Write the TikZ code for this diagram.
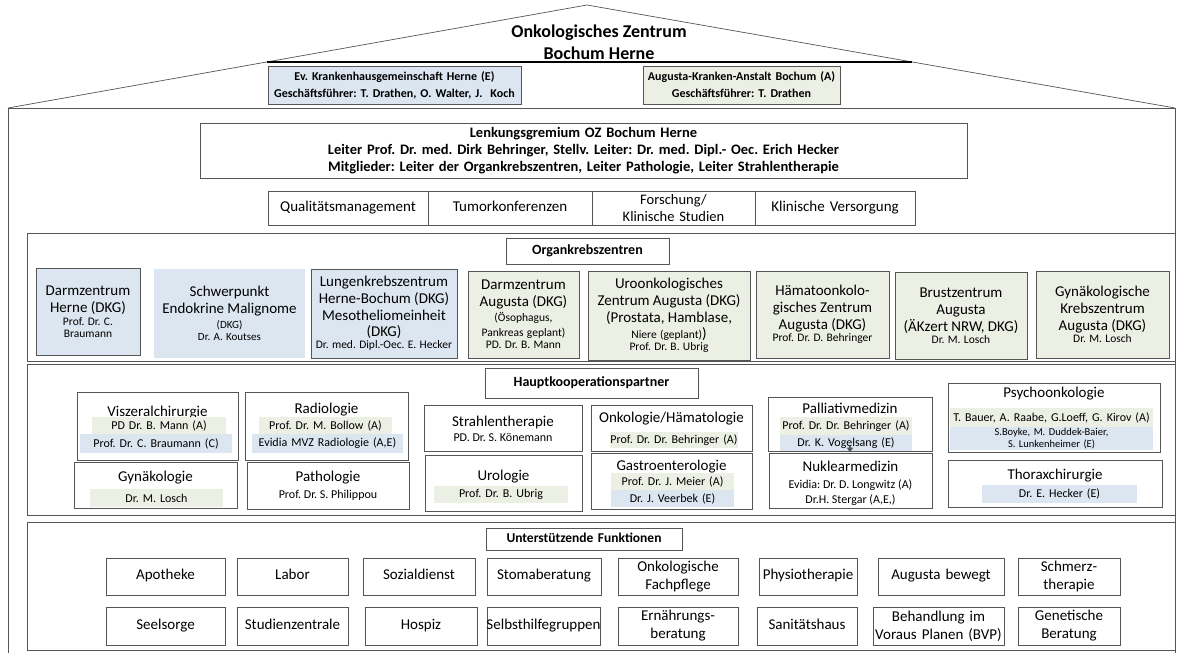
\documentclass[tikz,border=0pt]{standalone}
\usepackage{fontspec}
\setmainfont{Carlito}
\usetikzlibrary{calc,arrows.meta}
\definecolor{bfill}{HTML}{DCE6F1}
\definecolor{gfill}{HTML}{ECEFE4}
\definecolor{lc}{HTML}{555555}
\setlength\parindent{0pt}
\frenchspacing
\newcommand\fsz[2]{\fontsize{#1}{#2}\selectfont}
\newcommand\mn{\fsz{15}{16.8}}
\newcommand\sm{\fsz{11.5}{13}}
\newcommand\nm{\fsz{12}{14}}
% box: name, x1, y1, x2, y2, style, text
\newcommand\bx[7]{%
  \pgfmathsetmacro\bxw{#4-#2}\pgfmathsetmacro\bxh{#5-#3}%
  \pgfmathsetmacro\bxx{(#2+#4)/2}\pgfmathsetmacro\bxy{(#3+#5)/2}%
  \pgfmathsetmacro\bxt{#4-#2+40}%
  \node[#6,minimum width=\bxw pt,minimum height=\bxh pt,text width=\bxt pt,inner xsep=-20pt,inner ysep=0pt] (#1) at (\bxx,\bxy) {#7};}
\begin{document}
\begin{tikzpicture}[x=1pt,y=-1pt,
  frame/.style={draw=lc,line width=0.8pt},
  box/.style={draw=lc,line width=0.8pt,align=center},
  sbox/.style={box,execute at begin node={\strut},execute at end node={\strut}},
  plain/.style={inner sep=0pt,align=center},
  bb/.style={box,fill=bfill},
  gb/.style={box,fill=gfill},
  bband/.style={align=center,fill=bfill,font=\nm},
  gband/.style={align=center,fill=gfill,font=\nm},
  ttl/.style={plain,font=\fsz{15}{17}},
  lab/.style={sbox,font=\fsz{14}{16}\bfseries},
  sup/.style={sbox,font=\fsz{15}{16.5}},
  suptwo/.style={box,font=\fsz{15}{18}}]
\useasboundingbox (0,0) rectangle (1180,653);
\fill[white] (0,0) rectangle (1180,653);
% roof and house
\coordinate (roofL) at (8,108);
\coordinate (apex) at (587,5);
\coordinate (roofR) at (1175,108);
\coordinate (baseL) at (8,653);
\coordinate (baseR) at (1175,653);
\draw[lc,line width=0.7pt] (roofL) -- (apex) -- (roofR);
\draw[line width=1.6pt] ($(roofL)!0.4466!(apex)$) -- ($(roofR)!0.4466!(apex)$);
\draw[frame] (baseL) -- (roofL) -- (roofR) -- (baseR);
\node[plain,font=\fsz{18}{22}\bfseries] (title) at (599,42) {Onkologisches Zentrum\\Bochum Herne};
\bx{ev}{268}{66}{521}{104}{bb,font=\fsz{12}{17}\bfseries}{Ev. Krankenhausgemeinschaft Herne (E)\par Geschäftsführer: T. Drathen, O. Walter, J.\ \ Koch}
\bx{aug}{643}{66}{840}{104}{gb,font=\fsz{12}{17}\bfseries}{Augusta-Kranken-Anstalt Bochum (A)\par Geschäftsführer: T. Drathen}
% Lenkungsgremium
\bx{lenk}{200}{123}{967}{178}{box,font=\fsz{14.5}{17}\bfseries}{Lenkungsgremium OZ Bochum Herne\par Leiter Prof. Dr. med. Dirk Behringer, Stellv. Leiter: Dr. med. Dipl.- Oec. Erich Hecker\par Mitglieder: Leiter der Organkrebszentren, Leiter Pathologie, Leiter Strahlentherapie}
\bx{qm}{268}{191}{428}{225}{sbox,font=\fsz{15}{17}}{Qualitätsmanagement}
\bx{tk}{428}{191}{592}{225}{sbox,font=\fsz{15}{17}}{Tumorkonferenzen}
\bx{fs}{592}{191}{755}{225}{box,font=\fsz{14.5}{17}}{Forschung/\par Klinische Studien}
\bx{kv}{755}{191}{915}{225}{sbox,font=\fsz{15}{17}}{Klinische Versorgung}
% Organkrebszentren
\draw[frame] (27,233) rectangle (1175,361);
\bx{okz}{506}{238}{669}{264}{lab}{Organkrebszentren}
\bx{dzh}{36}{268}{140}{355}{bb}{\mn Darmzentrum\par Herne (DKG)\par\sm Prof. Dr. C.\par Braumann}
\bx{spe}{154}{269}{305}{358}{plain,fill=bfill}{\mn Schwerpunkt\par Endokrine Malignome\par\fsz{11}{15}(DKG)\par Dr. A. Koutses}
\bx{lkz}{311}{269}{457}{358}{bb}{\mn Lungenkrebszentrum\par Herne-Bochum (DKG)\par Mesotheliomeinheit\par (DKG)\par\sm Dr. med. Dipl.-Oec. E. Hecker}
\bx{dza}{468}{271}{579}{358}{gb}{\mn Darmzentrum\par Augusta (DKG)\par\fsz{11.5}{15}(Ösophagus,\par Pankreas geplant)\par PD. Dr. B. Mann}
\bx{uro}{588}{271}{750}{360}{gb}{\mn Uroonkologisches\par Zentrum Augusta (DKG)\par (Prostata, Hamblase,\par {\sm Niere (geplant)})\par\sm Prof. Dr. B. Ubrig}
\bx{hae}{756}{271}{889}{358}{gb}{\mn Hämatoonkolo-\par gisches Zentrum\par Augusta (DKG)\par\sm Prof. Dr. D. Behringer}
\bx{bru}{895}{272}{1027}{359}{gb}{\mn Brustzentrum\par Augusta\par (ÄKzert NRW, DKG)\par\sm Dr. M. Losch}
\bx{gyn}{1036}{271}{1169}{358}{gb}{\mn Gynäkologische\par Krebszentrum\par Augusta (DKG)\par\sm Dr. M. Losch}
% Hauptkooperationspartner
\draw[frame] (27,364) rectangle (1175,515);
\bx{hkp}{485}{368}{698}{398}{lab}{Hauptkooperationspartner}
% Viszeralchirurgie
\bx{vis}{77}{392}{238}{460}{box}{}
\node[ttl] (vist) at (157.5,413) {Viszeralchirurgie};
\bx{visa}{92}{417}{226}{434}{gband}{PD Dr. B. Mann (A)}
\bx{visb}{80}{434}{232}{453}{bband}{Prof. Dr. C. Braumann (C)}
% Radiologie
\bx{rad}{245}{392}{408}{460}{box}{}
\node[ttl] (radt) at (326.5,410) {Radiologie};
\bx{rada}{259}{417}{392}{434}{gband}{Prof. Dr. M. Bollow (A)}
\bx{radb}{252}{434}{403}{453}{bband}{Evidia MVZ Radiologie (A,E)}
% Gynaekologie
\bx{gk}{74}{462}{237}{508}{box}{}
\node[ttl] (gkt) at (155.5,478) {Gynäkologie};
\bx{gka}{90}{489}{223}{507}{gband}{Dr. M. Losch}
% Pathologie
\bx{pat}{247}{462}{409}{509}{box}{}
\node[ttl] (patt) at (328,478) {Pathologie};
\node[plain,font=\nm] (pata) at (328,495) {Prof. Dr. S. Philippou};
% Strahlentherapie
\bx{str}{424}{405}{582}{451}{box}{}
\node[ttl] (strt) at (503,422) {Strahlentherapie};
\node[plain,font=\nm] (stra) at (503,438) {PD. Dr. S. Könemann};
% Urologie
\bx{urol}{425}{455}{582}{511}{box}{}
\node[ttl] (urolt) at (503.5,477) {Urologie};
\bx{urola}{434}{486}{568}{503}{gband}{Prof. Dr. B. Ubrig}
% Onkologie/Haematologie
\bx{onk}{591}{405}{752}{451}{box}{}
\node[ttl] (onkt) at (671.5,419) {Onkologie/Hämatologie};
\bx{onka}{610}{432}{738}{448}{gband}{Prof. Dr. Dr. Behringer (A)}
% Gastroenterologie
\bx{gas}{591}{453}{752}{509}{box}{}
\node[ttl] (gast) at (671.5,467) {Gastroenterologie};
\bx{gasa}{611}{473}{734}{490}{gband}{Prof. Dr. J. Meier (A)}
\bx{gasb}{611}{490}{734}{507}{bband}{Dr. J. Veerbek (E)}
% Palliativmedizin
\bx{pal}{768}{397}{932}{451}{box}{}
\node[ttl] (palt) at (850,408) {Palliativmedizin};
\bx{pala}{780}{417}{912}{435}{gband}{Prof. Dr. Dr. Behringer (A)}
\bx{palb}{780}{435}{912}{451}{bband}{Dr. K. Vogelsang (E)}
% Nuklearmedizin
\bx{nuk}{769}{453}{932}{508}{box}{}
\node[ttl] (nukt) at (850.5,466) {Nuklearmedizin};
\node[plain,font=\nm] (nuka) at (850.5,485) {Evidia: Dr. D. Longwitz (A)};
\node[plain,font=\nm] (nukb) at (850.5,500) {Dr.H. Stergar (A,E,)};
\draw[lc,line width=1.2pt,-{Triangle[length=5pt,width=6pt]}] ([yshift=5pt]pal.south) -- (nuk.north -| pal.south);
% Psychoonkologie
\bx{psy}{948}{383}{1160}{452}{box}{}
\node[ttl] (psyt) at (1054,394) {Psychoonkologie};
\bx{psya}{950}{408}{1153}{427}{gband}{T. Bauer, A. Raabe, G.Loeff, G. Kirov (A)}
\bx{psyb}{950}{427}{1153}{450}{bband,font=\fsz{10.5}{11.5}}{S.Boyke, M. Duddek-Baier,\par S. Lunkenheimer (E)}
% Thoraxchirurgie
\bx{tho}{948}{460}{1162}{507}{box}{}
\node[ttl] (thot) at (1055,476) {Thoraxchirurgie};
\bx{thoa}{982}{485}{1137}{503}{bband}{Dr. E. Hecker (E)}
% Unterstuetzende Funktionen
\draw[frame] (27,522) rectangle (1175,650);
\bx{uf}{486}{528}{682}{550}{lab,font=\fsz{13.5}{15}\bfseries}{Unterstützende Funktionen}
\bx{apo}{106}{558}{225}{595}{sup}{Apotheke}
\bx{lab}{237}{558}{348}{595}{sup}{Labor}
\bx{soz}{363}{558}{475}{595}{sup}{Sozialdienst}
\bx{sto}{487}{558}{601}{595}{sup}{Stomaberatung}
\bx{okf}{618}{558}{738}{595}{suptwo}{Onkologische\par Fachpflege}
\bx{phy}{759}{558}{857}{595}{sup}{Physiotherapie}
\bx{abw}{878}{558}{1004}{595}{sup}{Augusta bewegt}
\bx{sch}{1018}{558}{1120}{595}{suptwo}{Schmerz-\par therapie}
\bx{see}{106}{607}{225}{645}{sup}{Seelsorge}
\bx{stz}{237}{607}{348}{645}{sup}{Studienzentrale}
\bx{hos}{365}{607}{477}{645}{sup}{Hospiz}
\bx{shg}{487}{607}{600}{645}{sup}{Selbsthilfegruppen}
\bx{ern}{618}{607}{738}{645}{suptwo}{Ernährungs-\par beratung}
\bx{san}{757}{607}{857}{645}{sup}{Sanitätshaus}
\bx{bvp}{873}{607}{1004}{645}{suptwo}{Behandlung im\par Voraus Planen (BVP)}
\bx{gen}{1018}{607}{1120}{645}{suptwo}{Genetische\par Beratung}
\end{tikzpicture}
\end{document}
